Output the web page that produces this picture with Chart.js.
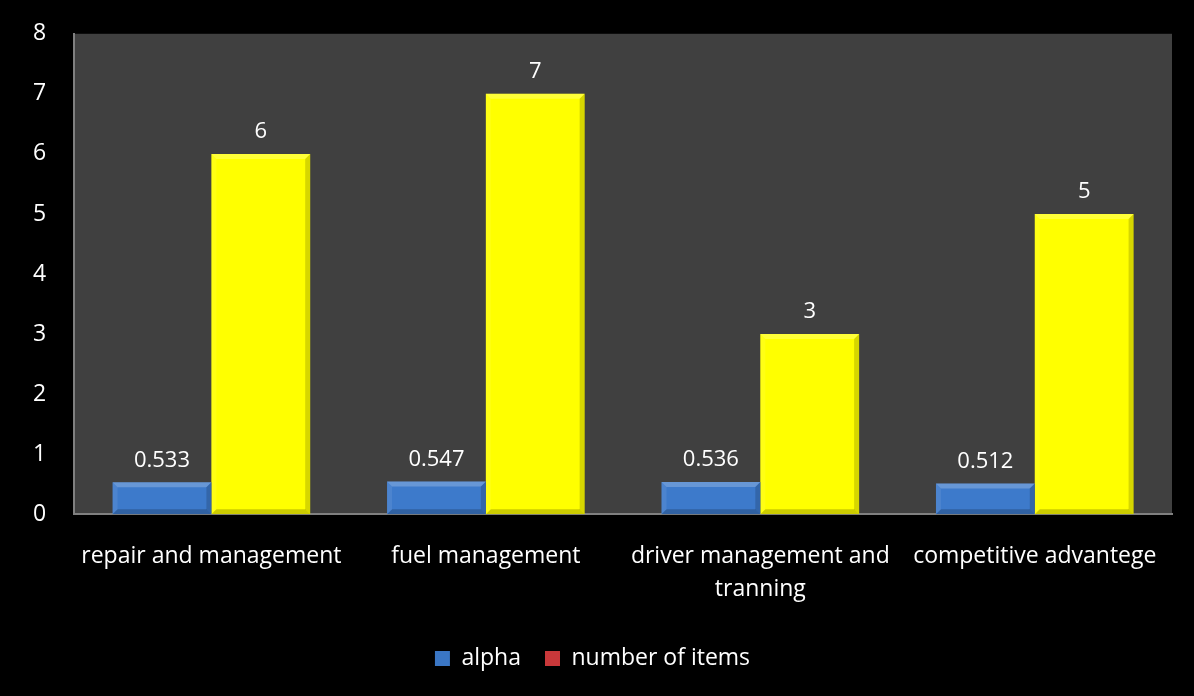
<!DOCTYPE html>
<html>
<head>
<meta charset="utf-8">
<script src="https://cdn.jsdelivr.net/npm/chart.js@4/dist/chart.umd.min.js"></script>
<style>
  html, body { margin: 0; padding: 0; background: #000; }
  #wrap { width: 1194px; height: 696px; }
</style>
</head>
<body>
<div id="wrap"><canvas id="chart"></canvas></div>
<script>
const categories = [
  "repair and management",
  "fuel management",
  ["driver management and", "tranning"],
  "competitive advantege",
];
const alphaValues = [0.533, 0.547, 0.536, 0.512];
const itemCounts = [6, 7, 3, 5];
const alphaLabels = ["0.533", "0.547", "0.536", "0.512"];
const itemLabels = ["6", "7", "3", "5"];

const fontFamily = "'Open Sans', 'Noto Sans', sans-serif";

// grey plot area behind the bars
const plotBackground = {
  id: "plotBackground",
  beforeDraw(chart) {
    const { ctx, chartArea } = chart;
    ctx.save();
    ctx.fillStyle = "#404040";
    ctx.fillRect(chartArea.left, chartArea.top, chartArea.right - chartArea.left, chartArea.bottom - chartArea.top);
    ctx.restore();
  },
};

// soft bevel on each bar + value labels on top
const bevelAndLabels = {
  id: "bevelAndLabels",
  afterDatasetsDraw(chart) {
    const ctx = chart.ctx;
    chart.data.datasets.forEach((dataset, i) => {
      const meta = chart.getDatasetMeta(i);
      meta.data.forEach((bar, j) => {
        const left = bar.x - bar.width / 2;
        const right = bar.x + bar.width / 2;
        const top = bar.y;
        const bottom = bar.base;
        const b = 5;
        ctx.save();
        ctx.fillStyle = "rgba(255,255,255,0.22)";
        ctx.beginPath();
        ctx.moveTo(left, top);
        ctx.lineTo(right, top);
        ctx.lineTo(right - b, top + b);
        ctx.lineTo(left + b, top + b);
        ctx.closePath();
        ctx.fill();
        ctx.fillStyle = "rgba(255,255,255,0.08)";
        ctx.beginPath();
        ctx.moveTo(left, top);
        ctx.lineTo(left + b, top + b);
        ctx.lineTo(left + b, bottom - b);
        ctx.lineTo(left, bottom);
        ctx.closePath();
        ctx.fill();
        ctx.fillStyle = "rgba(0,0,0,0.16)";
        ctx.beginPath();
        ctx.moveTo(right, top);
        ctx.lineTo(right, bottom);
        ctx.lineTo(right - b, bottom - b);
        ctx.lineTo(right - b, top + b);
        ctx.closePath();
        ctx.fill();
        ctx.fillStyle = "rgba(0,0,0,0.2)";
        ctx.beginPath();
        ctx.moveTo(left, bottom);
        ctx.lineTo(right, bottom);
        ctx.lineTo(right - b, bottom - b);
        ctx.lineTo(left + b, bottom - b);
        ctx.closePath();
        ctx.fill();

        ctx.fillStyle = "#ffffff";
        ctx.font = "22px " + fontFamily;
        ctx.textAlign = "center";
        ctx.textBaseline = "bottom";
        ctx.fillText(dataset.valueLabels[j], bar.x, top - 11);
        ctx.restore();
      });
    });
  },
};

new Chart(document.getElementById("chart"), {
  type: "bar",
  data: {
    labels: categories,
    datasets: [
      {
        label: "alpha",
        data: alphaValues,
        valueLabels: alphaLabels,
        backgroundColor: "#3d7acb",
        legendColor: "#3a76c4",
      },
      {
        label: "number of items",
        data: itemCounts,
        valueLabels: itemLabels,
        backgroundColor: "#ffff00",
        legendColor: "#c9383a",
      },
    ],
  },
  options: {
    responsive: true,
    maintainAspectRatio: false,
    animation: false,
    layout: { padding: { top: 20, right: 22, left: 13, bottom: 16 } },
    datasets: {
      bar: { barPercentage: 1, categoryPercentage: 0.72 },
    },
    scales: {
      x: {
        grid: { display: false },
        border: { color: "#808080", width: 2 },
        ticks: {
          color: "#ffffff",
          font: { size: 23, family: fontFamily, lineHeight: 1.45 },
          padding: 17,
          maxRotation: 0,
          autoSkip: false,
        },
      },
      y: {
        min: 0,
        max: 8,
        grid: { display: false },
        border: { color: "#808080", width: 2 },
        ticks: {
          stepSize: 1,
          color: "#ffffff",
          font: { size: 23, family: fontFamily },
          padding: 20,
        },
      },
    },
    plugins: {
      tooltip: { enabled: false },
      legend: {
        position: "bottom",
        labels: {
          color: "#ffffff",
          font: { size: 23, family: fontFamily },
          boxWidth: 15,
          boxHeight: 15,
          padding: 24,
          generateLabels(chart) {
            return chart.data.datasets.map((ds, i) => ({
              text: ds.label,
              fillStyle: ds.legendColor,
              strokeStyle: ds.legendColor,
              fontColor: "#ffffff",
              lineWidth: 0,
              datasetIndex: i,
            }));
          },
        },
      },
    },
  },
  plugins: [plotBackground, bevelAndLabels],
});
</script>
</body>
</html>
